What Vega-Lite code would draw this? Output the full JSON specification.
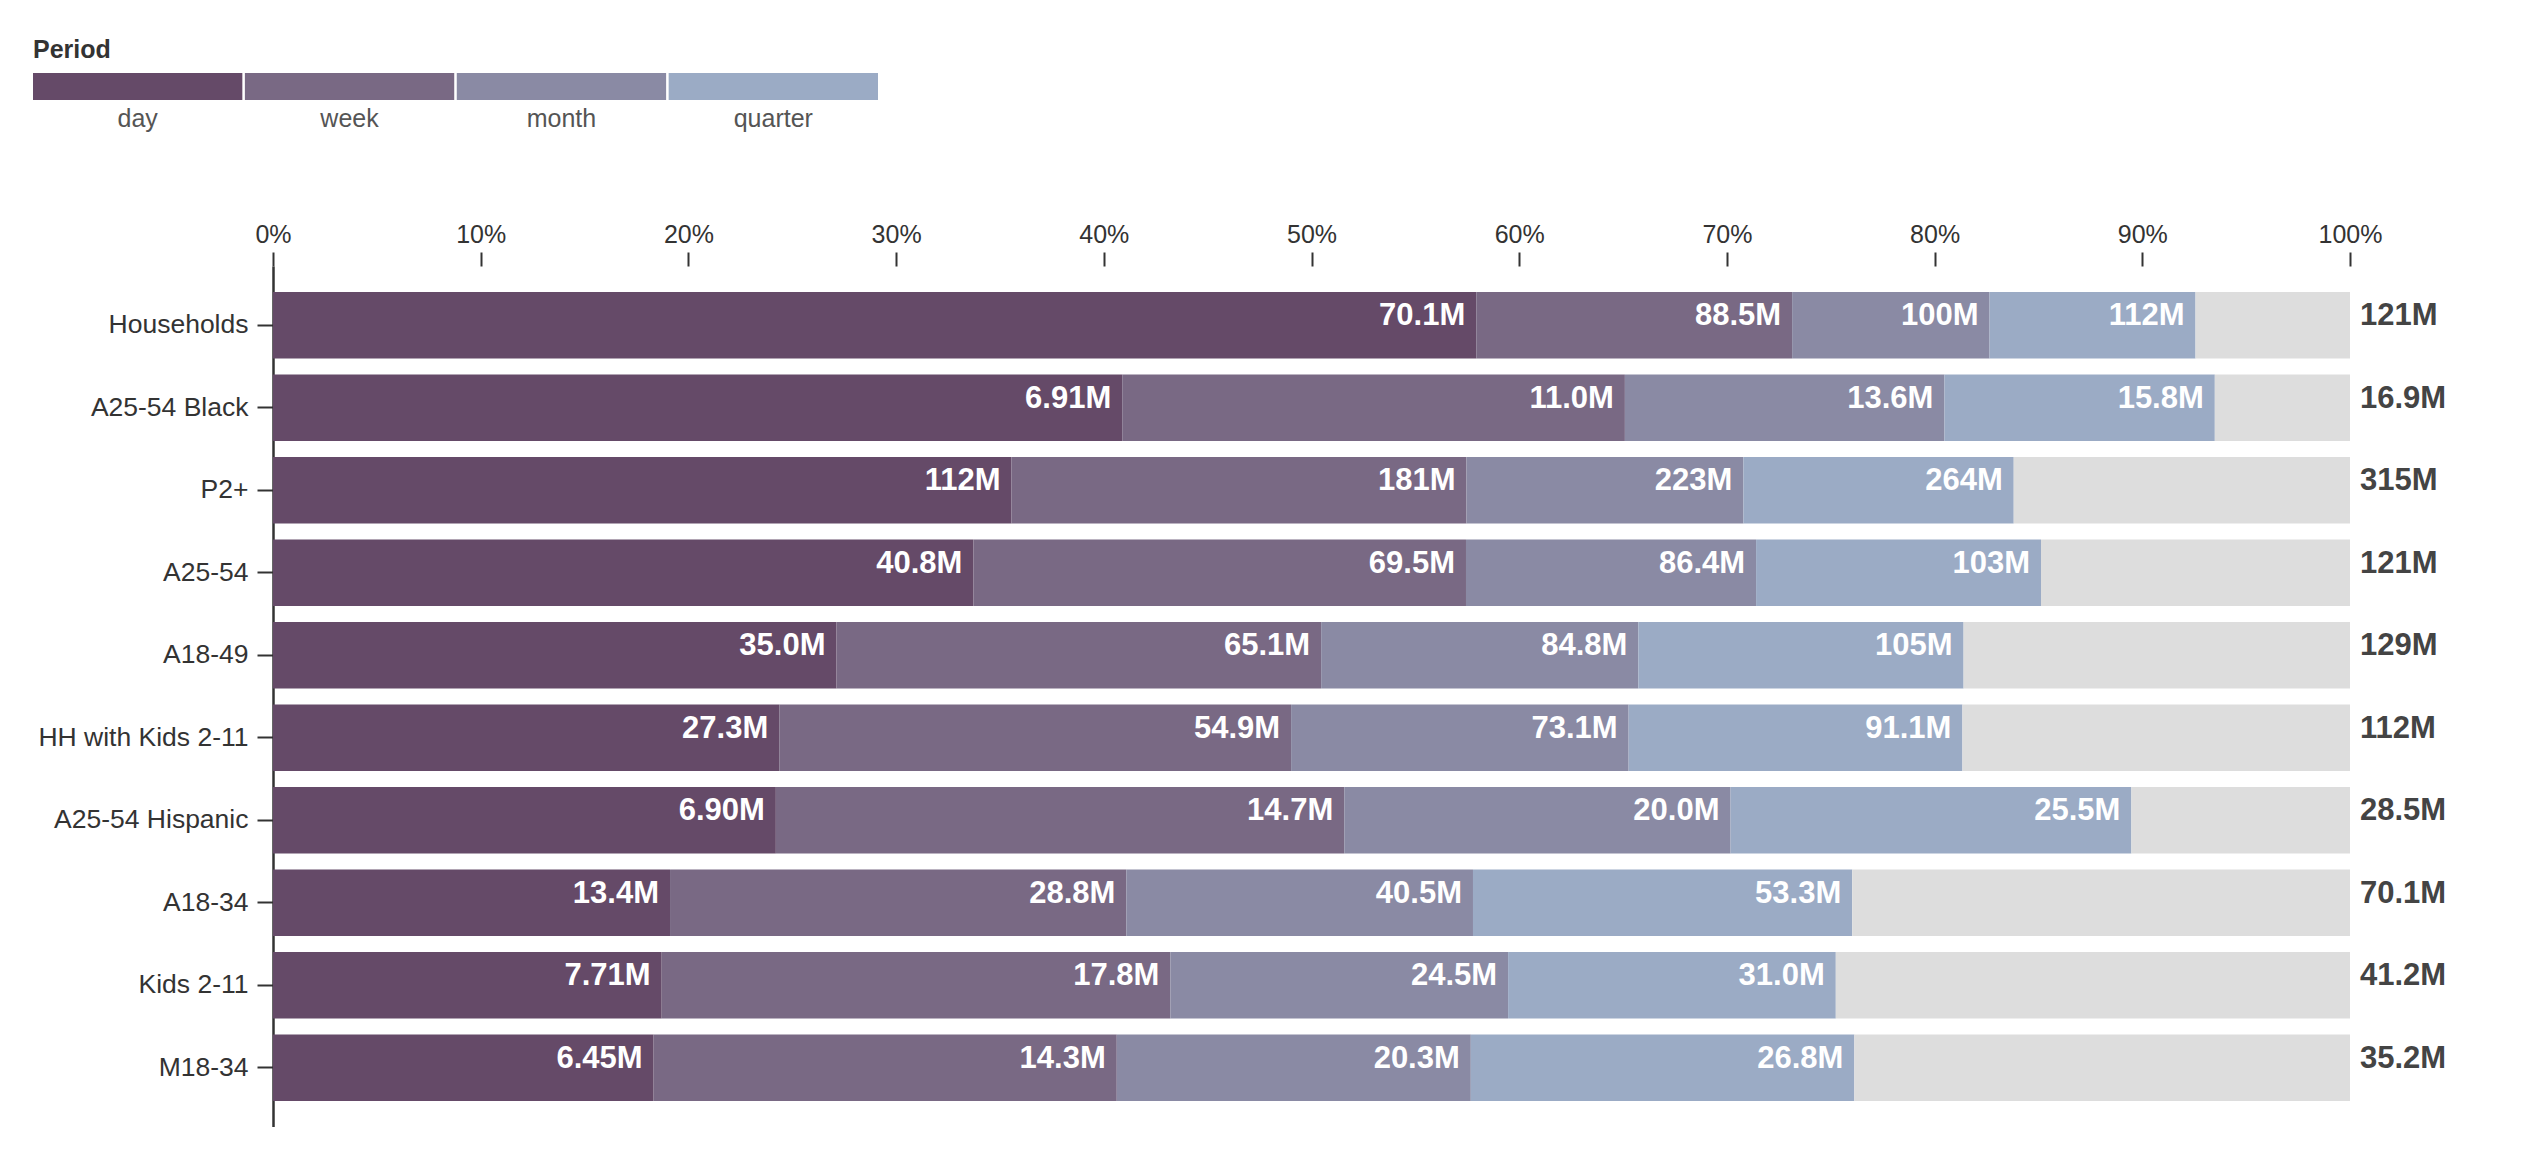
{
  "$schema": "https://vega.github.io/schema/vega-lite/v6.json",
  "padding": {"left": 33, "top": 38, "right": 0, "bottom": 0},
  "spacing": 91,
  "config": {"font": "Liberation Sans", "view": {"stroke": null}},
  "datasets": {
    "reach": [
      {"group": "Households", "period": "day", "step": 1, "gain": 70.1, "label": "70.1M"},
      {"group": "Households", "period": "week", "step": 2, "gain": 18.4, "label": "88.5M"},
      {"group": "Households", "period": "month", "step": 3, "gain": 11.5, "label": "100M"},
      {"group": "Households", "period": "quarter", "step": 4, "gain": 12.0, "label": "112M"},
      {"group": "Households", "period": "rest", "step": 5, "gain": 9.0, "label": ""},
      {"group": "A25-54 Black", "period": "day", "step": 1, "gain": 6.91, "label": "6.91M"},
      {"group": "A25-54 Black", "period": "week", "step": 2, "gain": 4.09, "label": "11.0M"},
      {"group": "A25-54 Black", "period": "month", "step": 3, "gain": 2.6, "label": "13.6M"},
      {"group": "A25-54 Black", "period": "quarter", "step": 4, "gain": 2.2, "label": "15.8M"},
      {"group": "A25-54 Black", "period": "rest", "step": 5, "gain": 1.1, "label": ""},
      {"group": "P2+", "period": "day", "step": 1, "gain": 112, "label": "112M"},
      {"group": "P2+", "period": "week", "step": 2, "gain": 69, "label": "181M"},
      {"group": "P2+", "period": "month", "step": 3, "gain": 42, "label": "223M"},
      {"group": "P2+", "period": "quarter", "step": 4, "gain": 41, "label": "264M"},
      {"group": "P2+", "period": "rest", "step": 5, "gain": 51, "label": ""},
      {"group": "A25-54", "period": "day", "step": 1, "gain": 40.8, "label": "40.8M"},
      {"group": "A25-54", "period": "week", "step": 2, "gain": 28.7, "label": "69.5M"},
      {"group": "A25-54", "period": "month", "step": 3, "gain": 16.9, "label": "86.4M"},
      {"group": "A25-54", "period": "quarter", "step": 4, "gain": 16.6, "label": "103M"},
      {"group": "A25-54", "period": "rest", "step": 5, "gain": 18.0, "label": ""},
      {"group": "A18-49", "period": "day", "step": 1, "gain": 35.0, "label": "35.0M"},
      {"group": "A18-49", "period": "week", "step": 2, "gain": 30.1, "label": "65.1M"},
      {"group": "A18-49", "period": "month", "step": 3, "gain": 19.7, "label": "84.8M"},
      {"group": "A18-49", "period": "quarter", "step": 4, "gain": 20.2, "label": "105M"},
      {"group": "A18-49", "period": "rest", "step": 5, "gain": 24.0, "label": ""},
      {"group": "HH with Kids 2-11", "period": "day", "step": 1, "gain": 27.3, "label": "27.3M"},
      {"group": "HH with Kids 2-11", "period": "week", "step": 2, "gain": 27.6, "label": "54.9M"},
      {"group": "HH with Kids 2-11", "period": "month", "step": 3, "gain": 18.2, "label": "73.1M"},
      {"group": "HH with Kids 2-11", "period": "quarter", "step": 4, "gain": 18.0, "label": "91.1M"},
      {"group": "HH with Kids 2-11", "period": "rest", "step": 5, "gain": 20.9, "label": ""},
      {"group": "A25-54 Hispanic", "period": "day", "step": 1, "gain": 6.9, "label": "6.90M"},
      {"group": "A25-54 Hispanic", "period": "week", "step": 2, "gain": 7.8, "label": "14.7M"},
      {"group": "A25-54 Hispanic", "period": "month", "step": 3, "gain": 5.3, "label": "20.0M"},
      {"group": "A25-54 Hispanic", "period": "quarter", "step": 4, "gain": 5.5, "label": "25.5M"},
      {"group": "A25-54 Hispanic", "period": "rest", "step": 5, "gain": 3.0, "label": ""},
      {"group": "A18-34", "period": "day", "step": 1, "gain": 13.4, "label": "13.4M"},
      {"group": "A18-34", "period": "week", "step": 2, "gain": 15.4, "label": "28.8M"},
      {"group": "A18-34", "period": "month", "step": 3, "gain": 11.7, "label": "40.5M"},
      {"group": "A18-34", "period": "quarter", "step": 4, "gain": 12.8, "label": "53.3M"},
      {"group": "A18-34", "period": "rest", "step": 5, "gain": 16.8, "label": ""},
      {"group": "Kids 2-11", "period": "day", "step": 1, "gain": 7.71, "label": "7.71M"},
      {"group": "Kids 2-11", "period": "week", "step": 2, "gain": 10.09, "label": "17.8M"},
      {"group": "Kids 2-11", "period": "month", "step": 3, "gain": 6.7, "label": "24.5M"},
      {"group": "Kids 2-11", "period": "quarter", "step": 4, "gain": 6.5, "label": "31.0M"},
      {"group": "Kids 2-11", "period": "rest", "step": 5, "gain": 10.2, "label": ""},
      {"group": "M18-34", "period": "day", "step": 1, "gain": 6.45, "label": "6.45M"},
      {"group": "M18-34", "period": "week", "step": 2, "gain": 7.85, "label": "14.3M"},
      {"group": "M18-34", "period": "month", "step": 3, "gain": 6.0, "label": "20.3M"},
      {"group": "M18-34", "period": "quarter", "step": 4, "gain": 6.5, "label": "26.8M"},
      {"group": "M18-34", "period": "rest", "step": 5, "gain": 8.4, "label": ""}
    ],
    "totals": [
      {"group": "Households", "total": "121M"},
      {"group": "A25-54 Black", "total": "16.9M"},
      {"group": "P2+", "total": "315M"},
      {"group": "A25-54", "total": "121M"},
      {"group": "A18-49", "total": "129M"},
      {"group": "HH with Kids 2-11", "total": "112M"},
      {"group": "A25-54 Hispanic", "total": "28.5M"},
      {"group": "A18-34", "total": "70.1M"},
      {"group": "Kids 2-11", "total": "41.2M"},
      {"group": "M18-34", "total": "35.2M"}
    ],
    "periods": [
      {"period": "day"},
      {"period": "week"},
      {"period": "month"},
      {"period": "quarter"}
    ]
  },
  "vconcat": [
    {
      "width": 845,
      "height": 27,
      "title": {"text": "Period", "anchor": "start", "fontSize": 25, "fontWeight": "bold", "color": "#333", "offset": 10},
      "data": {"name": "periods"},
      "mark": {"type": "bar", "xOffset": -240},
      "encoding": {
        "x": {
          "field": "period", "type": "nominal",
          "sort": ["day", "week", "month", "quarter"],
          "scale": {"paddingInner": 0.012, "paddingOuter": 0},
          "axis": {"title": null, "domain": false, "ticks": false, "tickSize": 0, "labelPadding": 6, "labelOffset": -240, "labelFontSize": 25, "labelColor": "#555", "labelAngle": 0}
        },
        "color": {
          "field": "period", "type": "nominal",
          "scale": {"domain": ["day", "week", "month", "quarter", "rest"], "range": ["#654a68", "#796984", "#8a8aa4", "#9babc5", "#dddddd"]},
          "legend": null
        }
      }
    },
    {
      "width": 2077,
      "height": 861,
      "encoding": {
        "y": {
          "field": "group", "type": "nominal",
          "sort": ["Households", "A25-54 Black", "P2+", "A25-54", "A18-49", "HH with Kids 2-11", "A25-54 Hispanic", "A18-34", "Kids 2-11", "M18-34"],
          "scale": {"paddingInner": 0.193, "paddingOuter": 0.315},
          "axis": {"title": null, "labelFontSize": 26.5, "labelColor": "#333", "labelLimit": 400, "tickSize": 16, "tickWidth": 2, "tickColor": "#333", "domainColor": "#333", "domainWidth": 2.5, "labelPadding": 9}
        }
      },
      "layer": [
        {
          "data": {"name": "reach"},
          "mark": {"type": "bar"},
          "encoding": {
            "x": {
              "field": "gain", "type": "quantitative", "stack": "normalize",
              "scale": {"domain": [0, 1]},
              "axis": {"orient": "top", "title": null, "format": "%", "values": [0, 0.1, 0.2, 0.3, 0.4, 0.5, 0.6, 0.7, 0.8, 0.9, 1], "domain": false, "grid": false, "tickSize": 14, "tickWidth": 2, "tickColor": "#333", "labelFontSize": 25, "labelColor": "#333", "labelPadding": 5, "labelFlush": false}
            },
            "color": {
              "field": "period", "type": "nominal",
              "scale": {"domain": ["day", "week", "month", "quarter", "rest"], "range": ["#654a68", "#796984", "#8a8aa4", "#9babc5", "#dddddd"]},
              "legend": null
            },
            "order": {"field": "step", "type": "quantitative"}
          }
        },
        {
          "data": {"name": "reach"},
          "mark": {"type": "text", "align": "right", "baseline": "alphabetic", "dx": -11, "fontSize": 31, "fontWeight": "bold", "color": "white"},
          "encoding": {
            "x": {"field": "gain", "type": "quantitative", "stack": "normalize"},
            "text": {"field": "label"},
            "order": {"field": "step", "type": "quantitative"}
          }
        },
        {
          "data": {"name": "totals"},
          "mark": {"type": "text", "align": "left", "baseline": "alphabetic", "dx": 10, "fontSize": 31, "fontWeight": "bold", "color": "#444"},
          "encoding": {
            "x": {"datum": 1},
            "text": {"field": "total"}
          }
        }
      ]
    }
  ]
}
